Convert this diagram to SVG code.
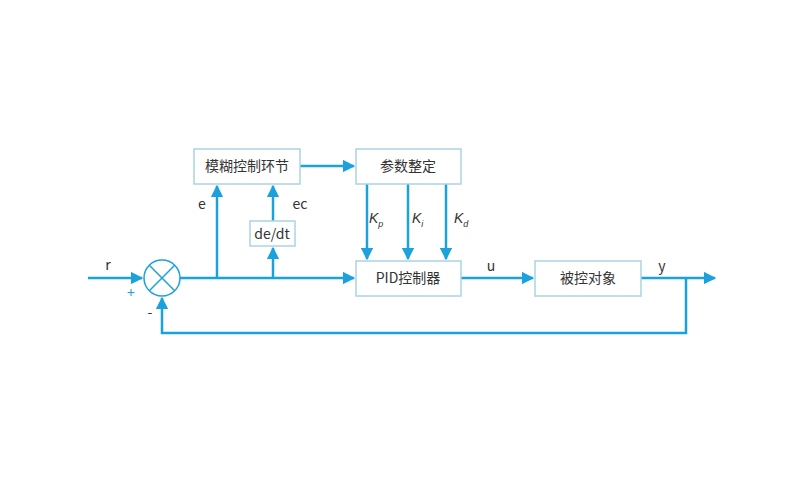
<svg xmlns="http://www.w3.org/2000/svg" width="805" height="500" viewBox="0 0 805 500">
<style>
.b{fill:#fff;stroke:#aad4e4;stroke-width:1.5}
.l{fill:none;stroke:#1ba2dc;stroke-width:2.5}
.t{font-family:"Noto Sans CJK SC","Liberation Sans",sans-serif;font-size:14px;fill:#333;text-anchor:middle}
.k{font-family:"Liberation Sans",sans-serif;font-size:14px;fill:#333;font-style:italic}
.s{font-size:9px}
</style>
<defs><marker id="a" viewBox="0 0 10 10" refX="9" refY="5" markerWidth="5" markerHeight="5" orient="auto" markerUnits="strokeWidth"><path d="M0,0L10,5L0,10z" fill="#1ba2dc"/></marker></defs>
<rect width="805" height="500" fill="#fff"/>
<g id="connectors">
<path class="l" d="M88,278H142" marker-end="url(#a)"/>
<path class="l" d="M180,278H354" marker-end="url(#a)"/>
<path class="l" d="M217,278V186" marker-end="url(#a)"/>
<path class="l" d="M273,278V248" marker-end="url(#a)"/>
<path class="l" d="M273,221V186" marker-end="url(#a)"/>
<path class="l" d="M300,166H354" marker-end="url(#a)"/>
<path class="l" d="M367,184V259" marker-end="url(#a)"/>
<path class="l" d="M408,184V259" marker-end="url(#a)"/>
<path class="l" d="M446,184V259" marker-end="url(#a)"/>
<path class="l" d="M461,278H533" marker-end="url(#a)"/>
<path class="l" d="M641,278H715" marker-end="url(#a)"/>
<path class="l" d="M686,278V333H162V298" marker-end="url(#a)"/>
</g>
<g id="sum"><circle cx="162" cy="278" r="18" fill="#fff" stroke="#1ba2dc" stroke-width="1.5"/><path d="M149.3,265.3L174.7,290.7M174.7,265.3L149.3,290.7" stroke="#1ba2dc" stroke-width="1.5"/></g>
<g id="fuzzy"><rect class="b" x="194" y="149" width="106" height="35"/><text class="t" x="247" y="171">模糊控制环节</text></g>
<g id="tune"><rect class="b" x="356" y="149" width="105" height="35"/><text class="t" x="408" y="171">参数整定</text></g>
<g id="dedt"><rect class="b" x="250" y="221" width="45" height="25"/><text class="t" x="272" y="239">de/dt</text></g>
<g id="pid"><rect class="b" x="356" y="261" width="105" height="35"/><text class="t" x="408" y="283">PID控制器</text></g>
<g id="plant"><rect class="b" x="535" y="261" width="106" height="35"/><text class="t" x="588" y="283">被控对象</text></g>
<g id="labels">
<text class="t" x="108" y="270">r</text>
<text class="t" x="131" y="298" fill="#1ba2dc" style="fill:#1ba2dc">+</text>
<text class="t" x="150" y="317">-</text>
<text class="t" x="202" y="209">e</text>
<text class="t" x="300" y="209">ec</text>
<text class="k" x="369" y="223">K<tspan class="s" dy="4">p</tspan></text>
<text class="k" x="412" y="223">K<tspan class="s" dy="4">i</tspan></text>
<text class="k" x="454" y="223">K<tspan class="s" dy="4">d</tspan></text>
<text class="t" x="491" y="271">u</text>
<text class="t" x="662" y="271">y</text>
</g>
</svg>
